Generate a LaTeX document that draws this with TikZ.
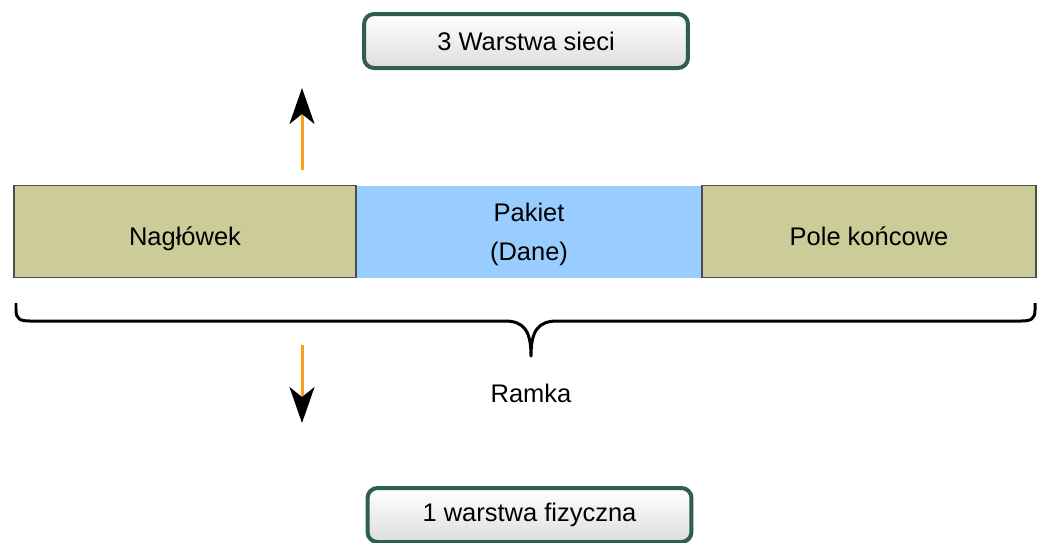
\documentclass[tikz,border=0pt]{standalone}
\usepackage{fontspec}
\setmainfont{Liberation Sans}
\usetikzlibrary{arrows.meta}
\definecolor{ramgreen}{HTML}{2E5E4E}
\definecolor{tanfield}{HTML}{CCCC99}
\definecolor{bluedata}{HTML}{99CCFF}
\definecolor{flowor}{HTML}{F9A11B}

\begin{document}
\begin{tikzpicture}[x=0.02cm, y=-0.02cm,
        every node/.style={font=\fontsize{14.5}{21.8}\selectfont},
        layer/.style={draw=ramgreen, line width=0.08cm, rounded corners=0.2cm,
              top color=white, bottom color=black!13,
              minimum width=6.48cm, minimum height=1.08cm, inner sep=0pt},
        field/.style={draw=black!70, line width=0.8pt, fill=tanfield,
              minimum height=1.84cm, inner sep=0pt,
              text height=15.5pt, text depth=0pt},
        flow/.style={draw=flowor, line width=0.06cm,
              -{Stealth[length=0.72cm, width=0.5cm, inset=0.2cm, color=black]}}]
        \useasboundingbox (0,0) rectangle (1037,542);

        % Layers above and below
        \node[layer] (net) at (526,41)    {3 Warstwa sieci};
        \node[layer] (phy) at (529.5,515) {1 warstwa fizyczna};

        % The frame
        \node[fill=bluedata, minimum width=6.92cm, minimum height=1.84cm,
              inner sep=0pt,
              label={[align=center, yshift=-0.06cm]center:Pakiet\\(Dane)}]
              (pkt) at (529,231.5) {};
        \node[field, minimum width=6.84cm] (hdr) at (185,231.5) {Nagłówek};
        \node[field, minimum width=6.68cm] (trl) at (869,231.5) {Pole końcowe};

        % Draw the arrows
        \coordinate (upS) at (302,170);
        \coordinate (upE) at (302,88);
        \coordinate (dnS) at (302,345);
        \coordinate (dnE) at (302,423);
        \draw[flow] (upS) -- (upE);
        \draw[flow] (dnS) -- (dnE);

        % Brace under the frame
        \draw[line width=0.06cm, line join=round]
              (16,303) -- (16,310) .. controls (16,319) and (20,321) .. (30,321)
              -- (505,321) .. controls (524,321) and (531,331) .. (531,356)
              .. controls (531,331) and (538,321) .. (557,321)
              -- (1021,321) .. controls (1031,321) and (1035,319) .. (1035,310)
              -- (1035,303);
        \node (frm) at (531,393) {Ramka};
    \end{tikzpicture}
\end{document}
